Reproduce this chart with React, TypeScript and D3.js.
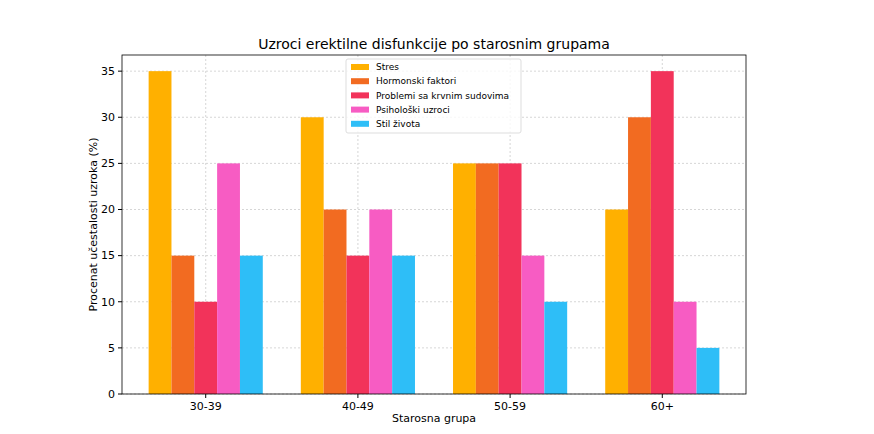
import * as d3 from 'd3';

const groups = ['30-39', '40-49', '50-59', '60+'];
const seriesNames = ['Stres', 'Hormonski faktori', 'Problemi sa krvnim sudovima', 'Psihološki uzroci', 'Stil života'];
const colors = ['#FFB000', '#F26B21', '#F2335A', '#F75CC3', '#2EBEF7'];
const values = [
  [35, 30, 25, 20],
  [15, 20, 25, 30],
  [10, 15, 25, 35],
  [25, 20, 15, 10],
  [15, 15, 10, 5],
];
const yTicks = [0, 5, 10, 15, 20, 25, 30, 35];

const W = 874, H = 434;
const L = 122, R = 746, T = 55, B = 394;
const font = 'DejaVu Sans, sans-serif';

export default function App() {
  const x = d3.scaleLinear().domain([-0.55, 3.55]).range([L, R]);
  const y = d3.scaleLinear().domain([0, 36.75]).range([B, T]);
  const bw = x(0.15) - x(0);
  return (
    <svg width={W} height={H} style={{ position: 'absolute', left: 0, top: 0 }} fontFamily={font}>
      <rect width={W} height={H} fill="#fff" />
      {yTicks.map((t) => (
        <g key={t}>
          <line x1={L} x2={R} y1={y(t)} y2={y(t)} stroke="#ccc" strokeDasharray="2,2" strokeWidth={0.8} />
          <line x1={L - 4} x2={L} y1={y(t)} y2={y(t)} stroke="#000" />
          <text x={L - 7} y={y(t)} dy="0.35em" textAnchor="end" fontSize={11}>{t}</text>
        </g>
      ))}
      {groups.map((g, i) => (
        <g key={g}>
          <line x1={x(i)} x2={x(i)} y1={T} y2={B} stroke="#ccc" strokeDasharray="2,2" strokeWidth={0.8} />
          <line x1={x(i)} x2={x(i)} y1={B} y2={B + 4} stroke="#000" />
          <text x={x(i)} y={B + 16} textAnchor="middle" fontSize={11}>{g}</text>
        </g>
      ))}
      {values.map((s, si) =>
        s.map((v, gi) => (
          <rect key={si + '-' + gi} x={x(gi + (si - 2.5) * 0.15)} y={y(v)} width={bw} height={y(0) - y(v)} fill={colors[si]} />
        ))
      )}
      <rect x={L} y={T} width={R - L} height={B - T} fill="none" stroke="#000" strokeWidth={0.8} />
      <text x={(L + R) / 2} y={49} textAnchor="middle" fontSize={14}>Uzroci erektilne disfunkcije po starosnim grupama</text>
      <text x={(L + R) / 2} y={422} textAnchor="middle" fontSize={11}>Starosna grupa</text>
      <text transform={`translate(97,${(T + B) / 2}) rotate(-90)`} textAnchor="middle" fontSize={11}>Procenat učestalosti uzroka (%)</text>
      <g transform="translate(346,59)">
        <rect width={175} height={74} fill="#fff" fillOpacity={0.8} stroke="#ddd" rx={2} />
        {seriesNames.map((n, i) => (
          <g key={n} transform={`translate(0,${8 + i * 14.2})`}>
            <rect x={5} y={-3} width={18} height={6} fill={colors[i]} />
            <text x={30} y={0} dy="0.35em" fontSize={9}>{n}</text>
          </g>
        ))}
      </g>
    </svg>
  );
}
